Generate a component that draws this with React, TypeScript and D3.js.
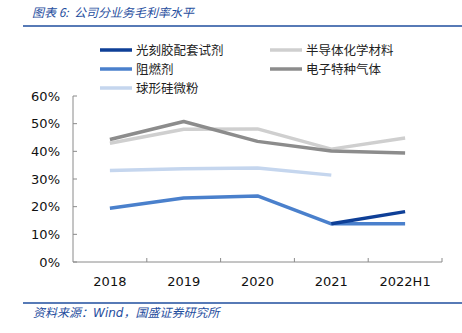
import React from "react";
import * as d3 from "d3";

const categories = ["2018", "2019", "2020", "2021", "2022H1"];
const yTicks = [0, 10, 20, 30, 40, 50, 60];
const seriesNames = ["光刻胶配套试剂", "半导体化学材料", "阻燃剂", "电子特种气体", "球形硅微粉"];
const photoresist: (number | null)[] = [null, null, null, 13.8, 18.2];
const semiChem: (number | null)[] = [42.9, 48.0, 48.1, 40.8, 44.8];
const flameRetardant: (number | null)[] = [19.4, 23.1, 23.9, 13.8, 13.8];
const specialGas: (number | null)[] = [44.3, 50.8, 43.6, 40.1, 39.4];
const silica: (number | null)[] = [33.1, 33.7, 34.0, 31.4, null];

const colors = ["#0E3F97", "#CFCFCF", "#4A80CC", "#8C8C8C", "#C5D6EE"];

export default function App() {
  const W = 462, H = 333;
  const left = 73, right = 442, top = 96, bottom = 262;
  const x = d3.scaleBand<string>().domain(categories).range([left, right]);
  const y = d3.scaleLinear().domain([0, 60]).range([bottom, top]);
  const line = d3
    .line<number | null>()
    .defined((d) => d !== null)
    .x((_, i) => (x(categories[i]) as number) + x.bandwidth() / 2)
    .y((d) => y(d as number));

  const seriesData = [photoresist, semiChem, flameRetardant, specialGas, silica];
  const drawOrder = [1, 3, 4, 2, 0];
  const legendPos = [
    [100, 50], [270, 50], [100, 69], [270, 69], [100, 88],
  ];
  const blue = "#1F4E9E";
  const axisColor = "#8A8A8A";
  const cjk = "'Noto Sans CJK SC', sans-serif";
  const latin = "'DejaVu Sans', Verdana, sans-serif";

  return (
    <svg width={W} height={H} style={{ position: "absolute", left: 0, top: 0 }}>
      <rect width={W} height={H} fill="#fff" />
      <text x={32} y={17} fill={blue} fontSize={12} fontStyle="italic" fontFamily={cjk}>
        {"图表 6:\u00A0\u00A0公司分业务毛利率水平"}
      </text>
      <line x1={23} x2={462} y1={26} y2={26} stroke={blue} strokeWidth={1.5} />

      {seriesNames.map((n, i) => (
        <g key={n}>
          <line
            x1={legendPos[i][0]} x2={legendPos[i][0] + 32}
            y1={legendPos[i][1]} y2={legendPos[i][1]}
            stroke={colors[i]} strokeWidth={3.5}
          />
          <text x={legendPos[i][0] + 36} y={legendPos[i][1] + 4.5} fontSize={12.5} fontFamily={cjk} fill="#222">
            {n}
          </text>
        </g>
      ))}

      {/* y axis */}
      <line x1={left} x2={left} y1={top} y2={bottom} stroke={axisColor} strokeWidth={1} />
      {yTicks.map((t) => (
        <g key={t}>
          <line x1={left} x2={left + 4} y1={y(t)} y2={y(t)} stroke={axisColor} />
          <text x={60} y={y(t) + 4.5} textAnchor="end" fontSize={13} fontFamily={latin} fill="#111">
            {t}%
          </text>
        </g>
      ))}
      {/* x axis */}
      <line x1={left} x2={right} y1={bottom} y2={bottom} stroke={axisColor} />
      {categories.map((c, i) => (
        <g key={c}>
          {i > 0 && (
            <line x1={x(c)} x2={x(c)} y1={bottom} y2={bottom - 4} stroke={axisColor} />
          )}
          <text
            x={(x(c) as number) + x.bandwidth() / 2}
            y={bottom + 24}
            textAnchor="middle"
            fontSize={13}
            fontFamily={latin}
            fill="#111"
          >
            {c}
          </text>
        </g>
      ))}
      <line x1={right} x2={right} y1={bottom} y2={bottom - 4} stroke={axisColor} />

      {drawOrder.map((i) => (
        <path
          key={i}
          d={line(seriesData[i]) || ""}
          fill="none"
          stroke={colors[i]}
          strokeWidth={3.5}
          strokeLinejoin="round"
        />
      ))}

      <line x1={23} x2={462} y1={303} y2={303} stroke={blue} strokeWidth={1.5} />
      <text x={33} y={317} fill={blue} fontSize={12} fontStyle="italic" fontFamily={cjk}>
        资料来源：<tspan fontFamily={latin}>Wind</tspan>，国盛证券研究所
      </text>
    </svg>
  );
}
